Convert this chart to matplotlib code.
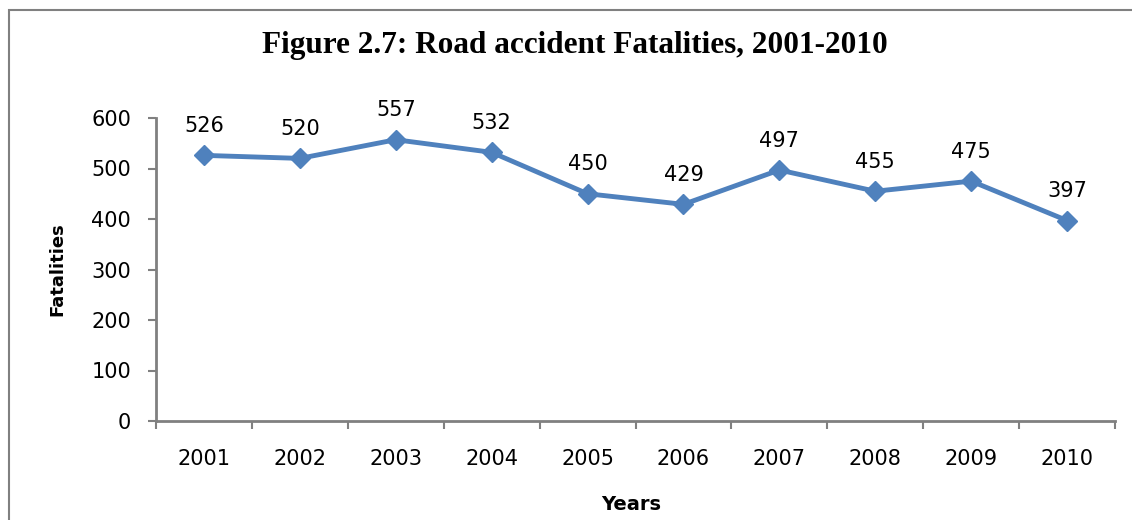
import matplotlib.pyplot as plt
from matplotlib.patches import Rectangle

years = ['2001', '2002', '2003', '2004', '2005', '2006', '2007', '2008', '2009', '2010']
fatalities = [526, 520, 557, 532, 450, 429, 497, 455, 475, 397]
yticks = [0, 100, 200, 300, 400, 500, 600]

fig = plt.figure(figsize=(11.32, 5.2), dpi=100)
ax = fig.add_axes([156 / 1132, 1 - 421 / 520, (1115 - 156) / 1132, (421 - 118) / 520])

x = list(range(len(years)))
ax.plot(x, fatalities, color='#4F81BD', linewidth=3.5, marker='D', markersize=10)
for xi, v in zip(x, fatalities):
    ax.annotate(str(v), (xi, v), xytext=(0, 14), textcoords='offset points',
                ha='center', va='bottom', fontsize=15, family='DejaVu Sans')

ax.set_xlim(-0.5, len(years) - 0.5)
ax.set_ylim(0, 600)
ax.set_yticks(yticks)
ax.set_yticklabels([str(t) for t in yticks], fontsize=15, family='DejaVu Sans')
ax.set_xticks(x)
ax.set_xticklabels(years, fontsize=15, family='DejaVu Sans')
ax.tick_params(axis='x', length=0, pad=20)
ax.tick_params(axis='y', length=6, color='#808080', width=1.5, pad=12)
ax.set_xticks([i - 0.5 for i in range(len(years) + 1)], minor=True)
ax.tick_params(axis='x', which='minor', length=6, color='#808080', width=1.5)
for s in ['top', 'right']:
    ax.spines[s].set_visible(False)
for s in ['left', 'bottom']:
    ax.spines[s].set_color('#808080')
    ax.spines[s].set_linewidth(2)

ax.set_xlabel('Years', fontsize=14, fontweight='bold', family='DejaVu Sans')
ax.set_ylabel('Fatalities', fontsize=13, fontweight='bold', family='DejaVu Sans')
ax.xaxis.set_label_coords(0.5 - 0.005, -(504 - 421) / 303, transform=ax.transAxes)
ax.yaxis.set_label_coords(-(156 - 57) / 959, (421 - 269) / 303, transform=ax.transAxes)
ax.xaxis.label.set_va('center')
ax.yaxis.label.set_va('center')

fig.text(0.508, 1 - 45 / 520, 'Figure 2.7: Road accident Fatalities, 2001-2010', ha='center', va='center',
         fontsize=22.5, fontweight='bold', family='Liberation Serif')

fig.patches.append(Rectangle((9 / 1132, -0.1), 1.2, 1 - 10 / 520 + 0.1, transform=fig.transFigure,
                             fill=False, edgecolor='#808080', linewidth=1.5))

fig.savefig('out.png', dpi=100)
